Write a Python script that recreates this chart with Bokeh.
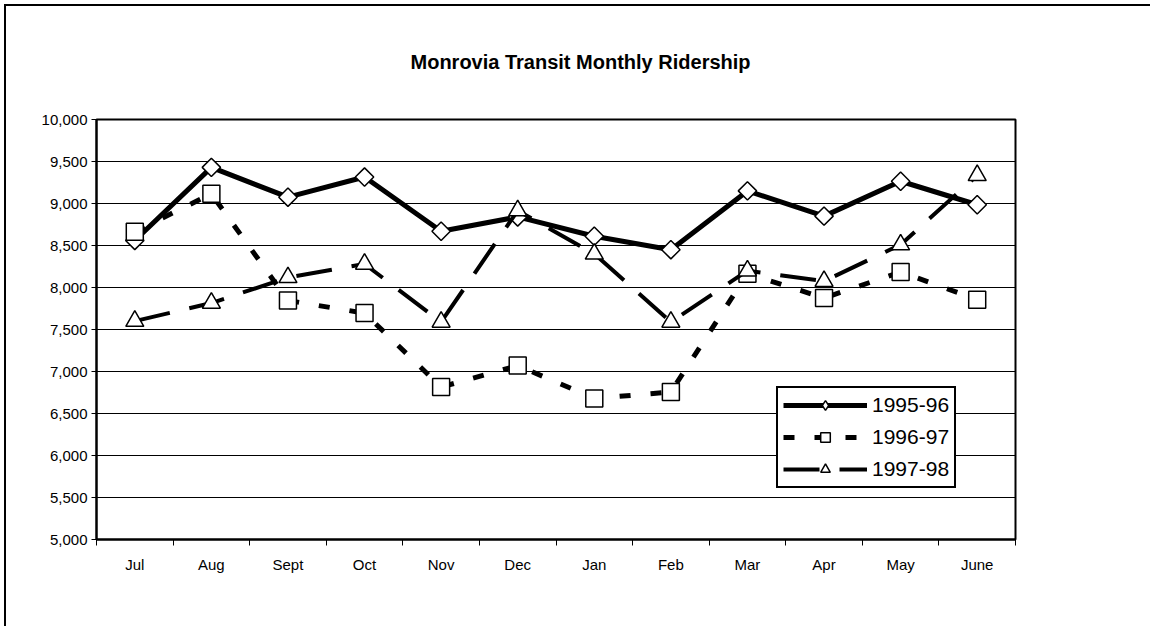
import numpy as np
from bokeh.plotting import figure
from bokeh.models import (Range1d, FixedTicker, NumeralTickFormatter, Legend,
                          LegendItem, Title)
from bokeh.embed import file_html
from bokeh.resources import INLINE

# ---- data ----
title_text = "Monrovia Transit Monthly Ridership"
months = ["Jul", "Aug", "Sept", "Oct", "Nov", "Dec", "Jan", "Feb", "Mar", "Apr", "May", "June"]
series_names = ["1995-96", "1996-97", "1997-98"]
r_1995_96 = [8560, 9430, 9075, 9315, 8670, 8840, 8610, 8450, 9150, 8850, 9265, 8985]
r_1996_97 = [8665, 9115, 7845, 7695, 6815, 7070, 6680, 6755, 8165, 7875, 8185, 7855]
r_1997_98 = [7600, 7815, 8120, 8280, 7590, 8915, 8400, 7590, 8200, 8075, 8510, 9335]
y_ticks = [5000, 5500, 6000, 6500, 7000, 7500, 8000, 8500, 9000, 9500, 10000]

xs = [i + 0.5 for i in range(len(months))]
bounds = list(range(len(months) + 1))

FONT = "Liberation Sans"

p = figure(width=1146, height=622,
           x_range=Range1d(0, len(months)), y_range=Range1d(y_ticks[0], y_ticks[-1]),
           output_backend="svg", toolbar_location=None,
           min_border_left=90, min_border_right=137,
           min_border_top=113, min_border_bottom=89,
           background_fill_color="white", border_fill_color="white")

p.styles = {"border-left": "2px solid black", "border-top": "2px solid black",
            "margin-left": "4px", "margin-top": "4px"}

p.title = Title(text=title_text, align="left", offset=314, vertical_align="top",
                standoff=89, text_font=FONT, text_font_size="20px",
                text_font_style="bold", text_color="black")

# x axis: labels at centers, tick marks at boundaries
xa = p.xaxis[0]
xa.ticker = FixedTicker(ticks=xs, minor_ticks=bounds)
xa.major_label_overrides = {x: m for x, m in zip(xs, months)}
xa.major_tick_out = 0
xa.major_tick_in = 0
xa.minor_tick_out = 6
xa.minor_tick_in = 0
xa.minor_tick_line_color = "black"
xa.minor_tick_line_width = 1
xa.major_label_standoff = 10

ya = p.yaxis[0]
ya.ticker = FixedTicker(ticks=y_ticks, minor_ticks=[])
ya.formatter = NumeralTickFormatter(format="0,0")
ya.major_tick_out = 5
ya.major_tick_in = 0
ya.major_tick_line_color = "black"
ya.major_tick_line_width = 1
ya.minor_tick_out = 0
ya.minor_tick_in = 0
ya.major_label_standoff = 4

for ax in (xa, ya):
    ax.axis_line_color = "black"
    ax.axis_line_width = 2
    ax.major_label_text_font = FONT
    ax.major_label_text_font_size = "15px"
    ax.major_label_text_color = "black"

p.xgrid.visible = False
p.ygrid.ticker = FixedTicker(ticks=y_ticks, minor_ticks=[])
p.ygrid.grid_line_color = "black"
p.ygrid.grid_line_width = 1
p.ygrid.grid_line_alpha = 1

p.outline_line_color = "black"
p.outline_line_width = 2
p.outline_line_alpha = 1

# ---- series ----
l1 = p.line(xs, r_1995_96, line_color="black", line_width=5)
# diamond used only for the legend symbol (zero size on the plot, hidden under markers)
d1 = p.scatter(xs, r_1995_96, marker="diamond", size=0, fill_color="white",
               line_color="black", line_width=1.5)
m1 = p.scatter(xs, r_1995_96, marker="square", angle=np.pi / 4, size=13,
               fill_color="white", line_color="black", line_width=1.5)

l2 = p.line(xs, r_1996_97, line_color="black", line_width=5, line_dash="11 20")
m2 = p.scatter(xs, r_1996_97, marker="square", size=17,
               fill_color="white", line_color="black", line_width=1.5)

l3 = p.line(xs, r_1997_98, line_color="black", line_width=4, line_dash="36 20")
m3 = p.scatter(xs, r_1997_98, marker="triangle", size=18,
               fill_color="white", line_color="black", line_width=1.5)

legend = Legend(items=[LegendItem(label=series_names[0], renderers=[l1, d1]),
                       LegendItem(label=series_names[1], renderers=[l2, m2]),
                       LegendItem(label=series_names[2], renderers=[l3, m3])],
                location=(680, 51), glyph_width=84, glyph_height=24,
                label_height=24, spacing=8, padding=5, margin=0,
                label_standoff=5, label_text_font=FONT,
                label_text_font_size="21px", label_text_color="black",
                border_line_color="black", border_line_width=2,
                border_line_alpha=1, background_fill_color="white",
                background_fill_alpha=1)
p.add_layout(legend)

open("out.html", "w").write(file_html(p, INLINE))
